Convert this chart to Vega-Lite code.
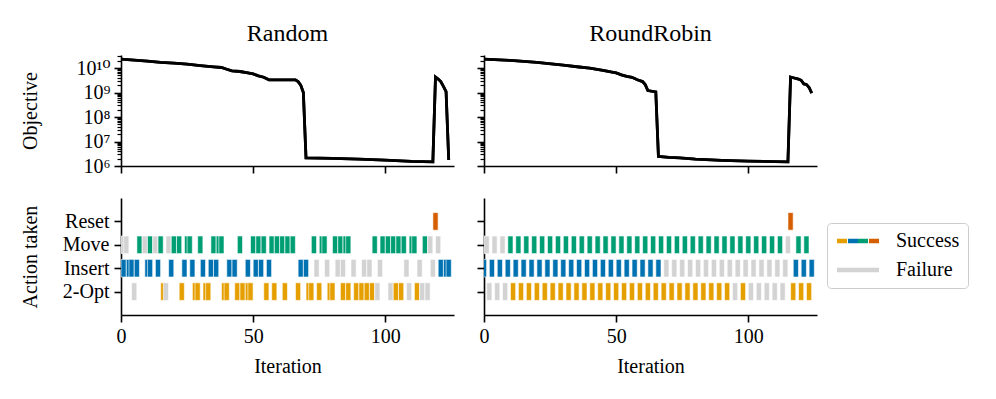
{
  "$schema": "https://vega.github.io/schema/vega-lite/v6.json",
  "background": "white",
  "padding": {"left": 20, "top": 22, "right": 5, "bottom": 5},
  "columns": 2,
  "spacing": {"row": 32, "column": 30},
  "bounds": "flush",
  "datasets": {
    "objective": [
      {"panel": "Random", "iter": 0, "value": 2.3e10},
      {"panel": "Random", "iter": 5, "value": 2.1e10},
      {"panel": "Random", "iter": 10, "value": 1.9e10},
      {"panel": "Random", "iter": 15, "value": 1.7e10},
      {"panel": "Random", "iter": 20, "value": 1.58e10},
      {"panel": "Random", "iter": 25, "value": 1.45e10},
      {"panel": "Random", "iter": 30, "value": 1.26e10},
      {"panel": "Random", "iter": 35, "value": 1.12e10},
      {"panel": "Random", "iter": 38, "value": 1.05e10},
      {"panel": "Random", "iter": 40, "value": 8.9e9},
      {"panel": "Random", "iter": 42, "value": 7.6e9},
      {"panel": "Random", "iter": 45, "value": 7.2e9},
      {"panel": "Random", "iter": 48, "value": 6.3e9},
      {"panel": "Random", "iter": 50, "value": 5.75e9},
      {"panel": "Random", "iter": 52, "value": 4.8e9},
      {"panel": "Random", "iter": 54, "value": 4.2e9},
      {"panel": "Random", "iter": 56, "value": 3.3e9},
      {"panel": "Random", "iter": 66, "value": 3.3e9},
      {"panel": "Random", "iter": 67, "value": 2.8e9},
      {"panel": "Random", "iter": 68, "value": 2.0e9},
      {"panel": "Random", "iter": 69, "value": 1.0e9},
      {"panel": "Random", "iter": 70, "value": 2.14e6},
      {"panel": "Random", "iter": 80, "value": 2.04e6},
      {"panel": "Random", "iter": 90, "value": 1.9e6},
      {"panel": "Random", "iter": 100, "value": 1.74e6},
      {"panel": "Random", "iter": 110, "value": 1.55e6},
      {"panel": "Random", "iter": 118, "value": 1.48e6},
      {"panel": "Random", "iter": 119, "value": 4.27e9},
      {"panel": "Random", "iter": 120, "value": 3.55e9},
      {"panel": "Random", "iter": 121, "value": 2.8e9},
      {"panel": "Random", "iter": 122, "value": 1.78e9},
      {"panel": "Random", "iter": 123, "value": 1.1e9},
      {"panel": "Random", "iter": 124, "value": 1.78e6},
      {"panel": "RoundRobin", "iter": 0, "value": 2.3e10},
      {"panel": "RoundRobin", "iter": 10, "value": 2.04e10},
      {"panel": "RoundRobin", "iter": 20, "value": 1.7e10},
      {"panel": "RoundRobin", "iter": 30, "value": 1.32e10},
      {"panel": "RoundRobin", "iter": 36, "value": 1.1e10},
      {"panel": "RoundRobin", "iter": 40, "value": 9.8e9},
      {"panel": "RoundRobin", "iter": 45, "value": 8.1e9},
      {"panel": "RoundRobin", "iter": 48, "value": 6.9e9},
      {"panel": "RoundRobin", "iter": 50, "value": 6.3e9},
      {"panel": "RoundRobin", "iter": 52, "value": 5.25e9},
      {"panel": "RoundRobin", "iter": 54, "value": 4.57e9},
      {"panel": "RoundRobin", "iter": 56, "value": 4.17e9},
      {"panel": "RoundRobin", "iter": 58, "value": 3.3e9},
      {"panel": "RoundRobin", "iter": 60, "value": 2.8e9},
      {"panel": "RoundRobin", "iter": 61, "value": 2.1e9},
      {"panel": "RoundRobin", "iter": 62, "value": 1.2e9},
      {"panel": "RoundRobin", "iter": 65, "value": 1.05e9},
      {"panel": "RoundRobin", "iter": 66, "value": 2.45e6},
      {"panel": "RoundRobin", "iter": 70, "value": 2.24e6},
      {"panel": "RoundRobin", "iter": 74, "value": 2.14e6},
      {"panel": "RoundRobin", "iter": 80, "value": 1.9e6},
      {"panel": "RoundRobin", "iter": 90, "value": 1.7e6},
      {"panel": "RoundRobin", "iter": 100, "value": 1.58e6},
      {"panel": "RoundRobin", "iter": 110, "value": 1.51e6},
      {"panel": "RoundRobin", "iter": 115, "value": 1.48e6},
      {"panel": "RoundRobin", "iter": 116, "value": 4.27e9},
      {"panel": "RoundRobin", "iter": 117, "value": 4.0e9},
      {"panel": "RoundRobin", "iter": 119, "value": 3.55e9},
      {"panel": "RoundRobin", "iter": 120, "value": 3.16e9},
      {"panel": "RoundRobin", "iter": 121, "value": 2.24e9},
      {"panel": "RoundRobin", "iter": 122, "value": 2.14e9},
      {"panel": "RoundRobin", "iter": 123, "value": 1.6e9},
      {"panel": "RoundRobin", "iter": 124, "value": 9.5e8}
    ],
    "actions": [
      {"panel": "Random", "iter": 1, "action": "Move", "status": "Failure"},
      {"panel": "Random", "iter": 2, "action": "Move", "status": "Failure"},
      {"panel": "Random", "iter": 7, "action": "Move", "status": "Success"},
      {"panel": "Random", "iter": 9, "action": "Move", "status": "Failure"},
      {"panel": "Random", "iter": 11, "action": "Move", "status": "Success"},
      {"panel": "Random", "iter": 13, "action": "Move", "status": "Failure"},
      {"panel": "Random", "iter": 15, "action": "Move", "status": "Success"},
      {"panel": "Random", "iter": 18, "action": "Move", "status": "Failure"},
      {"panel": "Random", "iter": 20, "action": "Move", "status": "Success"},
      {"panel": "Random", "iter": 22, "action": "Move", "status": "Success"},
      {"panel": "Random", "iter": 25, "action": "Move", "status": "Success"},
      {"panel": "Random", "iter": 26, "action": "Move", "status": "Success"},
      {"panel": "Random", "iter": 30, "action": "Move", "status": "Success"},
      {"panel": "Random", "iter": 35, "action": "Move", "status": "Success"},
      {"panel": "Random", "iter": 37, "action": "Move", "status": "Success"},
      {"panel": "Random", "iter": 38, "action": "Move", "status": "Success"},
      {"panel": "Random", "iter": 45, "action": "Move", "status": "Success"},
      {"panel": "Random", "iter": 50, "action": "Move", "status": "Success"},
      {"panel": "Random", "iter": 52, "action": "Move", "status": "Success"},
      {"panel": "Random", "iter": 54, "action": "Move", "status": "Success"},
      {"panel": "Random", "iter": 57, "action": "Move", "status": "Success"},
      {"panel": "Random", "iter": 59, "action": "Move", "status": "Success"},
      {"panel": "Random", "iter": 61, "action": "Move", "status": "Success"},
      {"panel": "Random", "iter": 63, "action": "Move", "status": "Success"},
      {"panel": "Random", "iter": 65, "action": "Move", "status": "Success"},
      {"panel": "Random", "iter": 73, "action": "Move", "status": "Success"},
      {"panel": "Random", "iter": 76, "action": "Move", "status": "Success"},
      {"panel": "Random", "iter": 77, "action": "Move", "status": "Success"},
      {"panel": "Random", "iter": 81, "action": "Move", "status": "Success"},
      {"panel": "Random", "iter": 83, "action": "Move", "status": "Success"},
      {"panel": "Random", "iter": 85, "action": "Move", "status": "Success"},
      {"panel": "Random", "iter": 86, "action": "Move", "status": "Success"},
      {"panel": "Random", "iter": 96, "action": "Move", "status": "Success"},
      {"panel": "Random", "iter": 99, "action": "Move", "status": "Success"},
      {"panel": "Random", "iter": 101, "action": "Move", "status": "Success"},
      {"panel": "Random", "iter": 103, "action": "Move", "status": "Success"},
      {"panel": "Random", "iter": 105, "action": "Move", "status": "Success"},
      {"panel": "Random", "iter": 107, "action": "Move", "status": "Success"},
      {"panel": "Random", "iter": 110, "action": "Move", "status": "Success"},
      {"panel": "Random", "iter": 111, "action": "Move", "status": "Success"},
      {"panel": "Random", "iter": 115, "action": "Move", "status": "Success"},
      {"panel": "Random", "iter": 117, "action": "Move", "status": "Failure"},
      {"panel": "Random", "iter": 120, "action": "Move", "status": "Failure"},
      {"panel": "Random", "iter": 1, "action": "Insert", "status": "Success"},
      {"panel": "Random", "iter": 3, "action": "Insert", "status": "Success"},
      {"panel": "Random", "iter": 4, "action": "Insert", "status": "Success"},
      {"panel": "Random", "iter": 6, "action": "Insert", "status": "Success"},
      {"panel": "Random", "iter": 10, "action": "Insert", "status": "Success"},
      {"panel": "Random", "iter": 11, "action": "Insert", "status": "Success"},
      {"panel": "Random", "iter": 14, "action": "Insert", "status": "Success"},
      {"panel": "Random", "iter": 19, "action": "Insert", "status": "Success"},
      {"panel": "Random", "iter": 24, "action": "Insert", "status": "Success"},
      {"panel": "Random", "iter": 27, "action": "Insert", "status": "Success"},
      {"panel": "Random", "iter": 31, "action": "Insert", "status": "Success"},
      {"panel": "Random", "iter": 34, "action": "Insert", "status": "Success"},
      {"panel": "Random", "iter": 36, "action": "Insert", "status": "Success"},
      {"panel": "Random", "iter": 41, "action": "Insert", "status": "Success"},
      {"panel": "Random", "iter": 43, "action": "Insert", "status": "Success"},
      {"panel": "Random", "iter": 48, "action": "Insert", "status": "Success"},
      {"panel": "Random", "iter": 51, "action": "Insert", "status": "Success"},
      {"panel": "Random", "iter": 53, "action": "Insert", "status": "Success"},
      {"panel": "Random", "iter": 56, "action": "Insert", "status": "Success"},
      {"panel": "Random", "iter": 68, "action": "Insert", "status": "Success"},
      {"panel": "Random", "iter": 70, "action": "Insert", "status": "Success"},
      {"panel": "Random", "iter": 74, "action": "Insert", "status": "Failure"},
      {"panel": "Random", "iter": 78, "action": "Insert", "status": "Failure"},
      {"panel": "Random", "iter": 82, "action": "Insert", "status": "Failure"},
      {"panel": "Random", "iter": 84, "action": "Insert", "status": "Failure"},
      {"panel": "Random", "iter": 88, "action": "Insert", "status": "Failure"},
      {"panel": "Random", "iter": 92, "action": "Insert", "status": "Failure"},
      {"panel": "Random", "iter": 94, "action": "Insert", "status": "Failure"},
      {"panel": "Random", "iter": 98, "action": "Insert", "status": "Failure"},
      {"panel": "Random", "iter": 108, "action": "Insert", "status": "Failure"},
      {"panel": "Random", "iter": 113, "action": "Insert", "status": "Failure"},
      {"panel": "Random", "iter": 118, "action": "Insert", "status": "Failure"},
      {"panel": "Random", "iter": 121, "action": "Insert", "status": "Success"},
      {"panel": "Random", "iter": 123, "action": "Insert", "status": "Success"},
      {"panel": "Random", "iter": 124, "action": "Insert", "status": "Success"},
      {"panel": "Random", "iter": 5, "action": "2-Opt", "status": "Failure"},
      {"panel": "Random", "iter": 16, "action": "2-Opt", "status": "Success"},
      {"panel": "Random", "iter": 17, "action": "2-Opt", "status": "Failure"},
      {"panel": "Random", "iter": 23, "action": "2-Opt", "status": "Success"},
      {"panel": "Random", "iter": 28, "action": "2-Opt", "status": "Success"},
      {"panel": "Random", "iter": 29, "action": "2-Opt", "status": "Success"},
      {"panel": "Random", "iter": 32, "action": "2-Opt", "status": "Success"},
      {"panel": "Random", "iter": 33, "action": "2-Opt", "status": "Success"},
      {"panel": "Random", "iter": 39, "action": "2-Opt", "status": "Success"},
      {"panel": "Random", "iter": 40, "action": "2-Opt", "status": "Success"},
      {"panel": "Random", "iter": 44, "action": "2-Opt", "status": "Success"},
      {"panel": "Random", "iter": 46, "action": "2-Opt", "status": "Success"},
      {"panel": "Random", "iter": 48, "action": "2-Opt", "status": "Success"},
      {"panel": "Random", "iter": 49, "action": "2-Opt", "status": "Success"},
      {"panel": "Random", "iter": 55, "action": "2-Opt", "status": "Success"},
      {"panel": "Random", "iter": 58, "action": "2-Opt", "status": "Success"},
      {"panel": "Random", "iter": 62, "action": "2-Opt", "status": "Success"},
      {"panel": "Random", "iter": 67, "action": "2-Opt", "status": "Success"},
      {"panel": "Random", "iter": 71, "action": "2-Opt", "status": "Success"},
      {"panel": "Random", "iter": 72, "action": "2-Opt", "status": "Success"},
      {"panel": "Random", "iter": 75, "action": "2-Opt", "status": "Success"},
      {"panel": "Random", "iter": 79, "action": "2-Opt", "status": "Success"},
      {"panel": "Random", "iter": 80, "action": "2-Opt", "status": "Success"},
      {"panel": "Random", "iter": 84, "action": "2-Opt", "status": "Success"},
      {"panel": "Random", "iter": 86, "action": "2-Opt", "status": "Success"},
      {"panel": "Random", "iter": 89, "action": "2-Opt", "status": "Success"},
      {"panel": "Random", "iter": 91, "action": "2-Opt", "status": "Success"},
      {"panel": "Random", "iter": 93, "action": "2-Opt", "status": "Success"},
      {"panel": "Random", "iter": 95, "action": "2-Opt", "status": "Success"},
      {"panel": "Random", "iter": 97, "action": "2-Opt", "status": "Failure"},
      {"panel": "Random", "iter": 102, "action": "2-Opt", "status": "Failure"},
      {"panel": "Random", "iter": 104, "action": "2-Opt", "status": "Success"},
      {"panel": "Random", "iter": 106, "action": "2-Opt", "status": "Success"},
      {"panel": "Random", "iter": 109, "action": "2-Opt", "status": "Failure"},
      {"panel": "Random", "iter": 112, "action": "2-Opt", "status": "Success"},
      {"panel": "Random", "iter": 114, "action": "2-Opt", "status": "Failure"},
      {"panel": "Random", "iter": 116, "action": "2-Opt", "status": "Failure"},
      {"panel": "Random", "iter": 119, "action": "Reset", "status": "Success"},
      {"panel": "RoundRobin", "iter": 0, "action": "Insert", "status": "Success"},
      {"panel": "RoundRobin", "iter": 3, "action": "Insert", "status": "Success"},
      {"panel": "RoundRobin", "iter": 6, "action": "Insert", "status": "Success"},
      {"panel": "RoundRobin", "iter": 9, "action": "Insert", "status": "Success"},
      {"panel": "RoundRobin", "iter": 12, "action": "Insert", "status": "Success"},
      {"panel": "RoundRobin", "iter": 15, "action": "Insert", "status": "Success"},
      {"panel": "RoundRobin", "iter": 18, "action": "Insert", "status": "Success"},
      {"panel": "RoundRobin", "iter": 21, "action": "Insert", "status": "Success"},
      {"panel": "RoundRobin", "iter": 24, "action": "Insert", "status": "Success"},
      {"panel": "RoundRobin", "iter": 27, "action": "Insert", "status": "Success"},
      {"panel": "RoundRobin", "iter": 30, "action": "Insert", "status": "Success"},
      {"panel": "RoundRobin", "iter": 33, "action": "Insert", "status": "Success"},
      {"panel": "RoundRobin", "iter": 36, "action": "Insert", "status": "Success"},
      {"panel": "RoundRobin", "iter": 39, "action": "Insert", "status": "Success"},
      {"panel": "RoundRobin", "iter": 42, "action": "Insert", "status": "Success"},
      {"panel": "RoundRobin", "iter": 45, "action": "Insert", "status": "Success"},
      {"panel": "RoundRobin", "iter": 48, "action": "Insert", "status": "Success"},
      {"panel": "RoundRobin", "iter": 51, "action": "Insert", "status": "Success"},
      {"panel": "RoundRobin", "iter": 54, "action": "Insert", "status": "Success"},
      {"panel": "RoundRobin", "iter": 57, "action": "Insert", "status": "Success"},
      {"panel": "RoundRobin", "iter": 60, "action": "Insert", "status": "Success"},
      {"panel": "RoundRobin", "iter": 63, "action": "Insert", "status": "Success"},
      {"panel": "RoundRobin", "iter": 66, "action": "Insert", "status": "Success"},
      {"panel": "RoundRobin", "iter": 69, "action": "Insert", "status": "Failure"},
      {"panel": "RoundRobin", "iter": 72, "action": "Insert", "status": "Failure"},
      {"panel": "RoundRobin", "iter": 75, "action": "Insert", "status": "Failure"},
      {"panel": "RoundRobin", "iter": 78, "action": "Insert", "status": "Failure"},
      {"panel": "RoundRobin", "iter": 81, "action": "Insert", "status": "Failure"},
      {"panel": "RoundRobin", "iter": 84, "action": "Insert", "status": "Failure"},
      {"panel": "RoundRobin", "iter": 87, "action": "Insert", "status": "Failure"},
      {"panel": "RoundRobin", "iter": 90, "action": "Insert", "status": "Failure"},
      {"panel": "RoundRobin", "iter": 93, "action": "Insert", "status": "Failure"},
      {"panel": "RoundRobin", "iter": 96, "action": "Insert", "status": "Failure"},
      {"panel": "RoundRobin", "iter": 99, "action": "Insert", "status": "Failure"},
      {"panel": "RoundRobin", "iter": 102, "action": "Insert", "status": "Failure"},
      {"panel": "RoundRobin", "iter": 105, "action": "Insert", "status": "Failure"},
      {"panel": "RoundRobin", "iter": 108, "action": "Insert", "status": "Failure"},
      {"panel": "RoundRobin", "iter": 111, "action": "Insert", "status": "Failure"},
      {"panel": "RoundRobin", "iter": 114, "action": "Insert", "status": "Failure"},
      {"panel": "RoundRobin", "iter": 118, "action": "Insert", "status": "Success"},
      {"panel": "RoundRobin", "iter": 121, "action": "Insert", "status": "Success"},
      {"panel": "RoundRobin", "iter": 124, "action": "Insert", "status": "Success"},
      {"panel": "RoundRobin", "iter": 1, "action": "Move", "status": "Failure"},
      {"panel": "RoundRobin", "iter": 4, "action": "Move", "status": "Failure"},
      {"panel": "RoundRobin", "iter": 7, "action": "Move", "status": "Failure"},
      {"panel": "RoundRobin", "iter": 10, "action": "Move", "status": "Success"},
      {"panel": "RoundRobin", "iter": 13, "action": "Move", "status": "Success"},
      {"panel": "RoundRobin", "iter": 16, "action": "Move", "status": "Success"},
      {"panel": "RoundRobin", "iter": 19, "action": "Move", "status": "Success"},
      {"panel": "RoundRobin", "iter": 22, "action": "Move", "status": "Success"},
      {"panel": "RoundRobin", "iter": 25, "action": "Move", "status": "Success"},
      {"panel": "RoundRobin", "iter": 28, "action": "Move", "status": "Success"},
      {"panel": "RoundRobin", "iter": 31, "action": "Move", "status": "Success"},
      {"panel": "RoundRobin", "iter": 34, "action": "Move", "status": "Success"},
      {"panel": "RoundRobin", "iter": 37, "action": "Move", "status": "Success"},
      {"panel": "RoundRobin", "iter": 40, "action": "Move", "status": "Success"},
      {"panel": "RoundRobin", "iter": 43, "action": "Move", "status": "Success"},
      {"panel": "RoundRobin", "iter": 46, "action": "Move", "status": "Success"},
      {"panel": "RoundRobin", "iter": 49, "action": "Move", "status": "Success"},
      {"panel": "RoundRobin", "iter": 52, "action": "Move", "status": "Success"},
      {"panel": "RoundRobin", "iter": 55, "action": "Move", "status": "Success"},
      {"panel": "RoundRobin", "iter": 58, "action": "Move", "status": "Success"},
      {"panel": "RoundRobin", "iter": 61, "action": "Move", "status": "Success"},
      {"panel": "RoundRobin", "iter": 64, "action": "Move", "status": "Success"},
      {"panel": "RoundRobin", "iter": 67, "action": "Move", "status": "Success"},
      {"panel": "RoundRobin", "iter": 70, "action": "Move", "status": "Success"},
      {"panel": "RoundRobin", "iter": 73, "action": "Move", "status": "Success"},
      {"panel": "RoundRobin", "iter": 76, "action": "Move", "status": "Success"},
      {"panel": "RoundRobin", "iter": 79, "action": "Move", "status": "Success"},
      {"panel": "RoundRobin", "iter": 82, "action": "Move", "status": "Success"},
      {"panel": "RoundRobin", "iter": 85, "action": "Move", "status": "Success"},
      {"panel": "RoundRobin", "iter": 88, "action": "Move", "status": "Success"},
      {"panel": "RoundRobin", "iter": 91, "action": "Move", "status": "Success"},
      {"panel": "RoundRobin", "iter": 94, "action": "Move", "status": "Success"},
      {"panel": "RoundRobin", "iter": 97, "action": "Move", "status": "Success"},
      {"panel": "RoundRobin", "iter": 100, "action": "Move", "status": "Success"},
      {"panel": "RoundRobin", "iter": 103, "action": "Move", "status": "Success"},
      {"panel": "RoundRobin", "iter": 106, "action": "Move", "status": "Success"},
      {"panel": "RoundRobin", "iter": 109, "action": "Move", "status": "Success"},
      {"panel": "RoundRobin", "iter": 112, "action": "Move", "status": "Success"},
      {"panel": "RoundRobin", "iter": 115, "action": "Move", "status": "Failure"},
      {"panel": "RoundRobin", "iter": 119, "action": "Move", "status": "Success"},
      {"panel": "RoundRobin", "iter": 122, "action": "Move", "status": "Success"},
      {"panel": "RoundRobin", "iter": 2, "action": "2-Opt", "status": "Failure"},
      {"panel": "RoundRobin", "iter": 5, "action": "2-Opt", "status": "Failure"},
      {"panel": "RoundRobin", "iter": 8, "action": "2-Opt", "status": "Failure"},
      {"panel": "RoundRobin", "iter": 11, "action": "2-Opt", "status": "Success"},
      {"panel": "RoundRobin", "iter": 14, "action": "2-Opt", "status": "Success"},
      {"panel": "RoundRobin", "iter": 17, "action": "2-Opt", "status": "Success"},
      {"panel": "RoundRobin", "iter": 20, "action": "2-Opt", "status": "Success"},
      {"panel": "RoundRobin", "iter": 23, "action": "2-Opt", "status": "Success"},
      {"panel": "RoundRobin", "iter": 26, "action": "2-Opt", "status": "Success"},
      {"panel": "RoundRobin", "iter": 29, "action": "2-Opt", "status": "Success"},
      {"panel": "RoundRobin", "iter": 32, "action": "2-Opt", "status": "Success"},
      {"panel": "RoundRobin", "iter": 35, "action": "2-Opt", "status": "Success"},
      {"panel": "RoundRobin", "iter": 38, "action": "2-Opt", "status": "Success"},
      {"panel": "RoundRobin", "iter": 41, "action": "2-Opt", "status": "Success"},
      {"panel": "RoundRobin", "iter": 44, "action": "2-Opt", "status": "Success"},
      {"panel": "RoundRobin", "iter": 47, "action": "2-Opt", "status": "Success"},
      {"panel": "RoundRobin", "iter": 50, "action": "2-Opt", "status": "Success"},
      {"panel": "RoundRobin", "iter": 53, "action": "2-Opt", "status": "Success"},
      {"panel": "RoundRobin", "iter": 56, "action": "2-Opt", "status": "Success"},
      {"panel": "RoundRobin", "iter": 59, "action": "2-Opt", "status": "Success"},
      {"panel": "RoundRobin", "iter": 62, "action": "2-Opt", "status": "Success"},
      {"panel": "RoundRobin", "iter": 65, "action": "2-Opt", "status": "Success"},
      {"panel": "RoundRobin", "iter": 68, "action": "2-Opt", "status": "Success"},
      {"panel": "RoundRobin", "iter": 71, "action": "2-Opt", "status": "Success"},
      {"panel": "RoundRobin", "iter": 74, "action": "2-Opt", "status": "Success"},
      {"panel": "RoundRobin", "iter": 77, "action": "2-Opt", "status": "Success"},
      {"panel": "RoundRobin", "iter": 80, "action": "2-Opt", "status": "Success"},
      {"panel": "RoundRobin", "iter": 83, "action": "2-Opt", "status": "Success"},
      {"panel": "RoundRobin", "iter": 86, "action": "2-Opt", "status": "Success"},
      {"panel": "RoundRobin", "iter": 89, "action": "2-Opt", "status": "Success"},
      {"panel": "RoundRobin", "iter": 92, "action": "2-Opt", "status": "Success"},
      {"panel": "RoundRobin", "iter": 95, "action": "2-Opt", "status": "Failure"},
      {"panel": "RoundRobin", "iter": 98, "action": "2-Opt", "status": "Success"},
      {"panel": "RoundRobin", "iter": 101, "action": "2-Opt", "status": "Failure"},
      {"panel": "RoundRobin", "iter": 104, "action": "2-Opt", "status": "Failure"},
      {"panel": "RoundRobin", "iter": 107, "action": "2-Opt", "status": "Failure"},
      {"panel": "RoundRobin", "iter": 110, "action": "2-Opt", "status": "Failure"},
      {"panel": "RoundRobin", "iter": 113, "action": "2-Opt", "status": "Failure"},
      {"panel": "RoundRobin", "iter": 117, "action": "2-Opt", "status": "Success"},
      {"panel": "RoundRobin", "iter": 120, "action": "2-Opt", "status": "Success"},
      {"panel": "RoundRobin", "iter": 123, "action": "2-Opt", "status": "Success"},
      {"panel": "RoundRobin", "iter": 116, "action": "Reset", "status": "Success"}
    ]
  },
  "concat": [
    {
      "title": {"text": "Random", "offset": 9},
      "width": 333,
      "height": 111,
      "data": {"name": "objective"},
      "transform": [{"filter": "datum.panel === 'Random'"}],
      "layer": [
        {
          "mark": {"type": "line", "color": "black", "strokeWidth": 2.8, "clip": true},
          "encoding": {
            "x": {"field": "iter", "type": "quantitative", "scale": {"domain": [0, 126], "nice": false, "zero": false}, "axis": {"values": [0, 50, 100], "labels": false, "title": null}},
            "y": {"field": "value", "type": "quantitative", "scale": {"type": "log", "domain": [1000000, 34000000000], "nice": false}, "axis": {"values": [1000000, 10000000, 100000000, 1000000000, 10000000000], "labelExpr": "['10⁶','10⁷','10⁸','10⁹','10¹⁰'][round(log(datum.value)/LN10)-6]", "labelFont": "Liberation Serif, DejaVu Serif", "title": "Objective", "minExtent": 75, "maxExtent": 75, "titlePadding": 6}}
          }
        },
        {
          "mark": {"type": "line", "color": "black", "strokeWidth": 2.8, "clip": true},
          "encoding": {
            "x": {"field": "iter", "type": "quantitative"},
            "y": {"field": "value", "type": "quantitative", "axis": {"orient": "left", "values": [2000000, 3000000, 4000000, 5000000, 6000000, 7000000, 8000000, 9000000, 20000000, 30000000, 40000000, 50000000, 60000000, 70000000, 80000000, 90000000, 200000000, 300000000, 400000000, 500000000, 600000000, 700000000, 800000000, 900000000, 2000000000, 3000000000, 4000000000, 5000000000, 6000000000, 7000000000, 8000000000, 9000000000, 20000000000, 30000000000], "labels": false, "title": null, "domain": false, "tickSize": 4, "tickWidth": 1.2}}
          }
        }
      ],
      "resolve": {"axis": {"y": "independent"}}
    },
    {
      "title": {"text": "RoundRobin", "offset": 9},
      "width": 333,
      "height": 111,
      "data": {"name": "objective"},
      "transform": [{"filter": "datum.panel === 'RoundRobin'"}],
      "layer": [
        {
          "mark": {"type": "line", "color": "black", "strokeWidth": 2.8, "clip": true},
          "encoding": {
            "x": {"field": "iter", "type": "quantitative", "scale": {"domain": [0, 126], "nice": false, "zero": false}, "axis": {"values": [0, 50, 100], "labels": false, "title": null}},
            "y": {"field": "value", "type": "quantitative", "scale": {"type": "log", "domain": [1000000, 34000000000], "nice": false}, "axis": {"values": [1000000, 10000000, 100000000, 1000000000, 10000000000], "labels": false, "title": null}}
          }
        },
        {
          "mark": {"type": "line", "color": "black", "strokeWidth": 2.8, "clip": true},
          "encoding": {
            "x": {"field": "iter", "type": "quantitative"},
            "y": {"field": "value", "type": "quantitative", "axis": {"orient": "left", "values": [2000000, 3000000, 4000000, 5000000, 6000000, 7000000, 8000000, 9000000, 20000000, 30000000, 40000000, 50000000, 60000000, 70000000, 80000000, 90000000, 200000000, 300000000, 400000000, 500000000, 600000000, 700000000, 800000000, 900000000, 2000000000, 3000000000, 4000000000, 5000000000, 6000000000, 7000000000, 8000000000, 9000000000, 20000000000, 30000000000], "labels": false, "title": null, "domain": false, "tickSize": 4, "tickWidth": 1.2}}
          }
        }
      ],
      "resolve": {"axis": {"y": "independent"}}
    },
    {
      "width": 333,
      "height": 117,
      "data": {"name": "actions"},
      "transform": [{"filter": "datum.panel === 'Random'"}],
      "mark": {"type": "tick", "thickness": 5.2, "size": 17.6, "opacity": 1, "filled": true, "stroke": "white", "strokeWidth": 0.6, "clip": true},
      "encoding": {
        "x": {"field": "iter", "type": "quantitative", "scale": {"domain": [0, 126], "nice": false, "zero": false}, "axis": {"values": [0, 50, 100], "title": "Iteration", "titlePadding": 10}},
        "y": {"field": "action", "type": "nominal", "scale": {"type": "point", "domain": ["Reset", "Move", "Insert", "2-Opt"], "padding": 1.18}, "axis": {"title": "Action taken", "minExtent": 75, "maxExtent": 75, "titlePadding": 6, "labelPadding": 5}},
        "color": {"condition": {"test": "datum.status === 'Failure'", "value": "#d3d3d3"}, "field": "action", "type": "nominal", "scale": {"domain": ["2-Opt", "Insert", "Move", "Reset"], "range": ["#E69F00", "#0072B2", "#009E73", "#D55E00"]}, "legend": null}
      }
    },
    {
      "width": 333,
      "height": 117,
      "data": {"name": "actions"},
      "transform": [{"filter": "datum.panel === 'RoundRobin'"}],
      "mark": {"type": "tick", "thickness": 5.2, "size": 17.6, "opacity": 1, "filled": true, "strokeWidth": 0.6, "clip": true},
      "encoding": {
        "x": {"field": "iter", "type": "quantitative", "scale": {"domain": [0, 126], "nice": false, "zero": false}, "axis": {"values": [0, 50, 100], "title": "Iteration", "titlePadding": 10}},
        "y": {"field": "action", "type": "nominal", "scale": {"type": "point", "domain": ["Reset", "Move", "Insert", "2-Opt"], "padding": 1.18}, "axis": {"labels": false, "title": null}},
        "color": {"condition": {"test": "datum.status === 'Failure'", "value": "#d3d3d3"}, "field": "action", "type": "nominal", "scale": {"domain": ["2-Opt", "Insert", "Move", "Reset"], "range": ["#E69F00", "#0072B2", "#009E73", "#D55E00"]}, "legend": null},
        "stroke": {"field": "status", "type": "nominal", "scale": {"domain": ["Success", "Failure"], "range": ["white", "white"]}, "legend": {
          "title": null, "orient": "none", "legendX": 706, "legendY": 168,
          "symbolType": "M-1.6,-0.45H6.8V0.45H-1.6Z", "symbolSize": 100, "symbolStrokeWidth": 0,
          "labelFont": "Liberation Serif", "labelFontSize": 20, "labelColor": "black", "labelOffset": 41,
          "rowPadding": 9, "padding": 8, "strokeColor": "#cccccc", "fillColor": "white", "cornerRadius": 4,
          "encoding": {"symbols": {
            "fill": {"condition": {"test": "datum.value === 'Success'", "value": {"gradient": "linear", "x1": 0, "y1": 0, "x2": 1, "y2": 0, "stops": [
                {"offset": 0, "color": "#E69F00"}, {"offset": 0.235, "color": "#E69F00"}, {"offset": 0.235, "color": "white"}, {"offset": 0.255, "color": "white"},
                {"offset": 0.255, "color": "#0072B2"}, {"offset": 0.49, "color": "#0072B2"}, {"offset": 0.49, "color": "white"}, {"offset": 0.51, "color": "white"},
                {"offset": 0.51, "color": "#009E73"}, {"offset": 0.745, "color": "#009E73"}, {"offset": 0.745, "color": "white"}, {"offset": 0.765, "color": "white"},
                {"offset": 0.765, "color": "#D55E00"}, {"offset": 1, "color": "#D55E00"}]}},
              "value": "#d3d3d3"},
            "stroke": {"value": "transparent"},
            "opacity": {"value": 1}
          }}
        }}
      }
    }
  ],
  "config": {
    "font": "Liberation Serif",
    "view": {"stroke": null},
    "axis": {"grid": false, "domainColor": "black", "domainWidth": 1.6, "tickColor": "black", "tickWidth": 1.6, "tickSize": 7, "labelColor": "black", "labelFontSize": 20, "labelFont": "Liberation Serif", "labelPadding": 4, "labelFlush": false, "labelOverlap": false, "titleColor": "black", "titleFontSize": 20, "titleFont": "Liberation Serif", "titleFontWeight": "normal"},
    "title": {"fontSize": 24, "fontWeight": "normal", "font": "Liberation Serif", "color": "black"}
  }
}
